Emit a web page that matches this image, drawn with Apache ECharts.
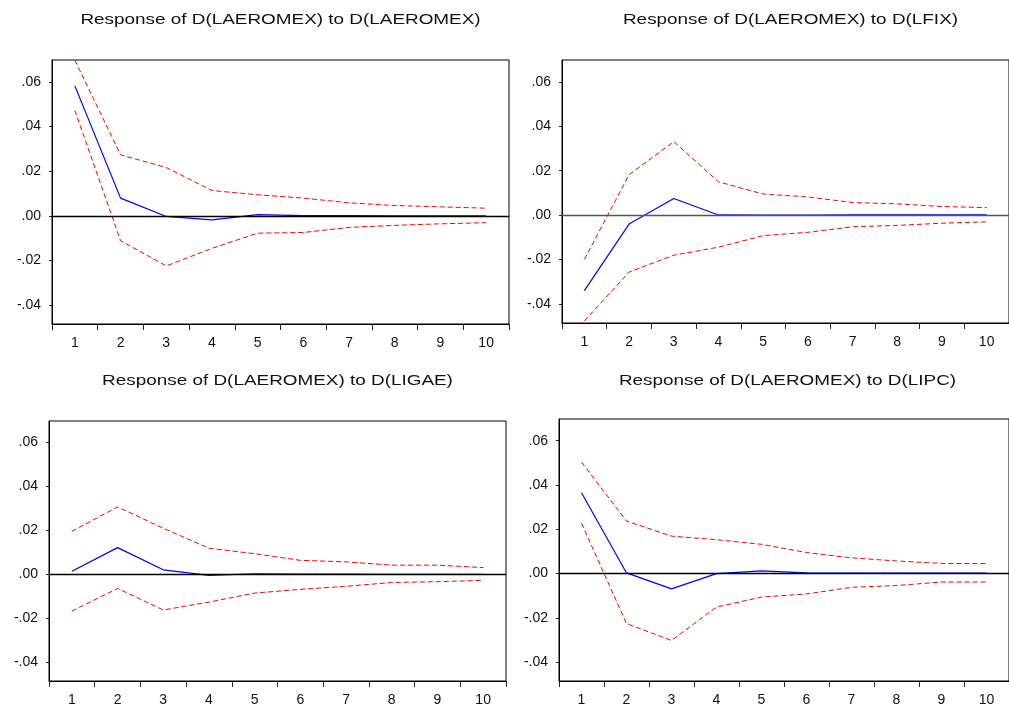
<!DOCTYPE html>
<html>
<head>
<meta charset="utf-8">
<script src="https://cdn.jsdelivr.net/npm/echarts@6/dist/echarts.min.js"></script>
<style>
  html, body { margin: 0; padding: 0; background: #ffffff; }
  #chart { width: 1009px; height: 707px; }
</style>
</head>
<body>
<div id="chart"></div>
<script>
// Forecast horizon (periods)
const periods = ['1', '2', '3', '4', '5', '6', '7', '8', '9', '10'];
// Y-axis tick values
const yTicks = [-0.04, -0.02, 0, 0.02, 0.04, 0.06];

const panelTitles = [
  'Response of D(LAEROMEX) to D(LAEROMEX)',
  'Response of D(LAEROMEX) to D(LFIX)',
  'Response of D(LAEROMEX) to D(LIGAE)',
  'Response of D(LAEROMEX) to D(LIPC)'
];

// Impulse response and +/- 2 S.E. bands
const laeromexResp  = [0.0582, 0.0079, -0.0003, -0.0018, 0.0005, 0.0001, 0.0001, 0.0000, 0.0000, 0.0000];
const laeromexUpper = [0.0697, 0.0273, 0.0216, 0.0113, 0.0094, 0.0079, 0.0058, 0.0046, 0.0040, 0.0034];
const laeromexLower = [0.0472, -0.0112, -0.0225, -0.0146, -0.0078, -0.0075, -0.0052, -0.0043, -0.0036, -0.0031];

const lfixResp  = [-0.0339, -0.0040, 0.0075, 0.0001, 0.0000, 0.0000, 0.0002, 0.0002, 0.0001, 0.0001];
const lfixUpper = [-0.0199, 0.0182, 0.0331, 0.0150, 0.0095, 0.0082, 0.0057, 0.0051, 0.0039, 0.0034];
const lfixLower = [-0.0476, -0.0256, -0.0180, -0.0144, -0.0092, -0.0077, -0.0052, -0.0046, -0.0036, -0.0030];

const ligaeResp  = [0.0014, 0.0122, 0.0021, -0.0004, 0.0003, 0.0001, 0.0001, 0.0000, 0.0000, 0.0000];
const ligaeUpper = [0.0196, 0.0307, 0.0210, 0.0119, 0.0094, 0.0064, 0.0057, 0.0042, 0.0042, 0.0031];
const ligaeLower = [-0.0167, -0.0064, -0.0162, -0.0126, -0.0085, -0.0068, -0.0054, -0.0037, -0.0033, -0.0027];

const lipcResp  = [0.0365, 0.0003, -0.0069, 0.0000, 0.0012, 0.0003, 0.0002, 0.0002, 0.0002, 0.0002];
const lipcUpper = [0.0503, 0.0237, 0.0169, 0.0153, 0.0132, 0.0095, 0.0071, 0.0057, 0.0046, 0.0045];
const lipcLower = [0.0227, -0.0226, -0.0302, -0.0151, -0.0106, -0.0092, -0.0062, -0.0054, -0.0038, -0.0038];

const panels = [
  { resp: laeromexResp, upper: laeromexUpper, lower: laeromexLower },
  { resp: lfixResp,     upper: lfixUpper,     lower: lfixLower },
  { resp: ligaeResp,    upper: ligaeUpper,    lower: ligaeLower },
  { resp: lipcResp,     upper: lipcUpper,     lower: lipcLower }
];

// Plot frames (pixels)
const frames = [
  { left: 52,  top: 60,  width: 457, height: 264, zero: '#000000' },
  { left: 562, top: 60,  width: 457, height: 263, zero: '#555555' },
  { left: 49,  top: 421, width: 457, height: 264, zero: '#000000' },
  { left: 559, top: 419, width: 457, height: 263, zero: '#000000' }
];
const titleY = [20, 381];

const FONT = '"Liberation Sans", Arial, Helvetica, sans-serif';

function fmtTick(v) {
  if (Math.abs(v) < 1e-9) return '.00';
  const s = Math.abs(v).toFixed(2).replace(/^0/, '');
  return (v < 0 ? '-' : '') + s;
}

const grid = [], xAxis = [], yAxis = [], series = [], graphic = [];

frames.forEach((f, i) => {
  grid.push({
    left: f.left, top: f.top, width: f.width, height: f.height,
    show: true, borderColor: '#000', borderWidth: 1, backgroundColor: 'transparent',
    containLabel: false
  });
  xAxis.push({
    type: 'category', gridIndex: i, data: periods, boundaryGap: true,
    axisLine: { show: true, onZero: false, lineStyle: { color: '#000', width: 1 } },
    axisTick: { show: true, inside: false, length: 6, interval: 0, alignWithLabel: false,
                lineStyle: { color: '#222' } },
    axisLabel: { show: true, interval: 0, margin: 12, fontSize: 14, color: '#111', fontFamily: FONT },
    splitLine: { show: false }
  });
  yAxis.push({
    type: 'value', gridIndex: i, min: -0.0485, max: 0.0698,
    axisLine: { show: true, onZero: false, lineStyle: { color: '#000', width: 1 } },
    axisTick: { show: true, inside: false, length: 3, customValues: yTicks,
                lineStyle: { color: '#222' } },
    axisLabel: { show: true, margin: 11, fontSize: 14, color: '#111', fontFamily: FONT,
                 customValues: yTicks, formatter: fmtTick },
    splitLine: { show: false }
  });

  const p = panels[i];
  series.push({
    type: 'line', xAxisIndex: i, yAxisIndex: i, data: p.upper,
    symbol: 'none', z: 3,
    lineStyle: { color: '#ff0000', width: 1, type: [5, 3] }
  });
  series.push({
    type: 'line', xAxisIndex: i, yAxisIndex: i, data: p.lower,
    symbol: 'none', z: 3,
    lineStyle: { color: '#ff0000', width: 1, type: [5, 3] }
  });
  series.push({
    type: 'line', xAxisIndex: i, yAxisIndex: i, data: p.resp,
    symbol: 'none', z: 4,
    lineStyle: { color: '#0000ff', width: 1.2 },
    markLine: {
      silent: true, symbol: ['none', 'none'], label: { show: false },
      lineStyle: { color: f.zero, type: 'solid', width: 1.3 },
      data: [{ yAxis: 0 }]
    }
  });

  graphic.push({
    type: 'text',
    x: f.left + f.width / 2,
    y: titleY[i < 2 ? 0 : 1],
    scaleX: 1.26,
    style: {
      text: panelTitles[i],
      font: '15px ' + FONT,
      fill: '#111',
      textAlign: 'center',
      textVerticalAlign: 'middle'
    }
  });
});

const chart = echarts.init(document.getElementById('chart'), null, { renderer: 'canvas' });
chart.setOption({
  animation: false,
  backgroundColor: '#ffffff',
  grid, xAxis, yAxis, series, graphic
});
</script>
</body>
</html>
